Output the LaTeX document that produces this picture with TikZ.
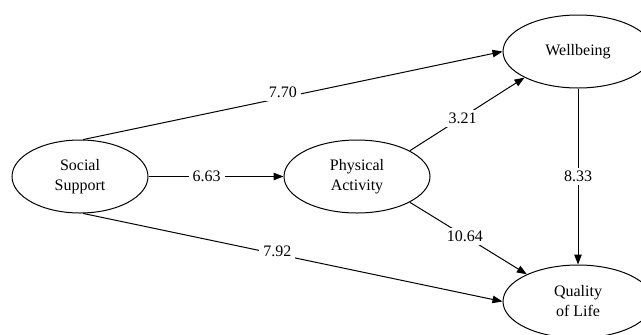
\documentclass[tikz,border=0pt]{standalone}
\usepackage{fontspec}
\setmainfont{Liberation Serif}
\usetikzlibrary{shapes.geometric,arrows.meta}
\begin{document}
\begin{tikzpicture}[x=1bp,y=-1bp,
  latent/.style={draw, ellipse, line width=1bp, inner sep=0pt, align=center,
    minimum height=73bp, font=\fontsize{16bp}{20bp}\selectfont},
  edge/.style={draw, line width=1bp, -{Triangle[length=10bp,width=7.5bp]}},
  lbl/.style={fill=white, inner xsep=4bp, inner ysep=3bp, font=\fontsize{16bp}{20bp}\selectfont}]
\useasboundingbox (0,0) rectangle (641,334);
\node[latent, minimum width=136bp] (ss) at (80,176.5) {Social\\Support};
\node[latent, minimum width=146bp] (pa) at (357,176.5) {Physical\\Activity};
\node[latent, minimum width=150bp] (wb) at (578,51.5) {Wellbeing};
\node[latent, minimum width=150bp] (ql) at (578,301.5) {Quality\\of Life};

\draw[edge] (ss.85) -- node[lbl, pos=0.476, yshift=5bp] {7.70} (wb.west);
\draw[edge] (ss.east) -- node[lbl, pos=0.43] {6.63} (pa.west);
\draw[edge] (ss.-85) -- node[lbl, pos=0.463, yshift=3bp] {7.92} (ql.west);
\draw[edge] (pa.26.6) -- node[lbl, pos=0.46, yshift=-1bp] {3.21} (wb.206);
\draw[edge] (pa.-26.6) -- node[lbl, pos=0.47] {10.64} (ql.152.6);
\draw[edge] (wb.south) -- node[lbl, pos=0.5] {8.33} (ql.north);
\end{tikzpicture}
\end{document}
